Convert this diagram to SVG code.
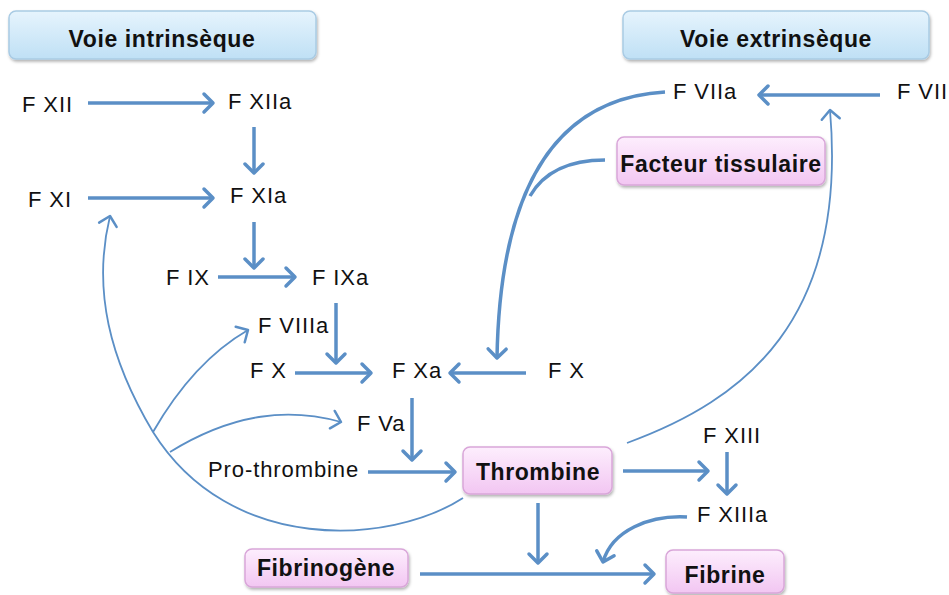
<svg xmlns="http://www.w3.org/2000/svg" width="949" height="595" viewBox="0 0 949 595">
<defs>
<linearGradient id="gBlue" x1="0" y1="0" x2="0" y2="1">
<stop offset="0" stop-color="#e6f4fd"/><stop offset="1" stop-color="#bfe0f5"/>
</linearGradient>
<linearGradient id="gPink" x1="0" y1="0" x2="0" y2="1">
<stop offset="0" stop-color="#fdeefd"/><stop offset="1" stop-color="#f2c6f2"/>
</linearGradient>
<filter id="sh" x="-10%" y="-20%" width="120%" height="150%">
<feDropShadow dx="1" dy="2" stdDeviation="1.5" flood-color="#000" flood-opacity="0.3"/>
</filter>
<marker id="ah" markerUnits="userSpaceOnUse" markerWidth="24" markerHeight="24" refX="12" refY="12" orient="auto">
<path d="M3,3 L12,12 L3,21" fill="none" stroke="#5b8fc6" stroke-width="3.5" stroke-linecap="round" stroke-linejoin="round"/>
</marker>
<marker id="ahThin" markerUnits="userSpaceOnUse" markerWidth="24" markerHeight="24" refX="12" refY="12" orient="auto">
<path d="M3,3 L12,12 L3,21" fill="none" stroke="#5b8fc6" stroke-width="2.5" stroke-linecap="round" stroke-linejoin="round"/>
</marker>
</defs>
<style>
.t{font-family:"Liberation Sans",Arial,sans-serif;font-size:22px;fill:#111;letter-spacing:0.9px}
.b{font-family:"Liberation Sans",Arial,sans-serif;font-size:23px;font-weight:bold;fill:#111;letter-spacing:0.6px;text-anchor:middle}
.blue{fill:url(#gBlue);stroke:#a9cbe4;stroke-width:1.5;filter:url(#sh)}
.pink{fill:url(#gPink);stroke:#d9a6d9;stroke-width:1.5;filter:url(#sh)}
.a{fill:none;stroke:#5b8fc6;stroke-width:3.5;marker-end:url(#ah)}
.tha{fill:none;stroke:#5b8fc6;stroke-width:1.8;marker-end:url(#ahThin)}
.tk{fill:none;stroke:#5b8fc6;stroke-width:3.5}
</style>
<g id="connectors">
<line class="a" x1="88" y1="103" x2="213" y2="103"/>
<line class="a" x1="254" y1="127" x2="254" y2="173"/>
<line class="a" x1="88" y1="198" x2="213" y2="198"/>
<line class="a" x1="254" y1="222" x2="254" y2="268"/>
<line class="a" x1="218" y1="277" x2="295" y2="277"/>
<line class="a" x1="336" y1="303" x2="336" y2="363"/>
<line class="a" x1="295" y1="373" x2="371" y2="373"/>
<line class="a" x1="526" y1="373" x2="450" y2="373"/>
<line class="a" x1="412" y1="398" x2="412" y2="460"/>
<line class="a" x1="368" y1="472" x2="455" y2="472"/>
<line class="a" x1="623" y1="471" x2="708" y2="471"/>
<line class="a" x1="727" y1="452" x2="727" y2="494"/>
<line class="a" x1="538" y1="503" x2="538" y2="563"/>
<line class="a" x1="420" y1="574" x2="654" y2="574"/>
<line class="a" x1="880" y1="95" x2="759" y2="95"/>
<path class="a" d="M665,92 C560,98 500,180 497,358"/>
<path class="tk" d="M605,160 C572,160 545,170 530,196"/>
<path class="a" d="M687,517 C650,515 612,530 603,562"/>
<path class="tha" d="M627,443 C745,400 848,320 830,110"/>
<path class="tha" d="M463,498 C390,545 230,555 153,432 C110,360 92,290 110,216"/>
<path class="tha" d="M153,432 C180,385 210,352 248,330"/>
<path class="tha" d="M170,452 C235,412 290,408 341,422"/>
</g>
<g id="voie-intrinseque"><rect class="blue" x="9" y="11" width="307" height="48" rx="7"/><text class="b" x="162" y="47">Voie intrinsèque</text></g>
<g id="voie-extrinseque"><rect class="blue" x="623" y="11" width="306" height="48" rx="7"/><text class="b" x="776" y="47">Voie extrinsèque</text></g>
<g id="facteur-tissulaire"><rect class="pink" x="617" y="137" width="208" height="48" rx="7"/><text class="b" x="721" y="172">Facteur tissulaire</text></g>
<g id="thrombine"><rect class="pink" x="463" y="447" width="149" height="47" rx="7"/><text class="b" x="538" y="480">Thrombine</text></g>
<g id="fibrinogene"><rect class="pink" x="245" y="549" width="163" height="38" rx="7"/><text class="b" x="326" y="576">Fibrinogène</text></g>
<g id="fibrine"><rect class="pink" x="666" y="550" width="118" height="43" rx="7"/><text class="b" x="725" y="583">Fibrine</text></g>
<g id="fxii"><text class="t" x="22" y="112">F XII</text></g>
<g id="fxiia"><text class="t" x="228" y="109">F XIIa</text></g>
<g id="fxi"><text class="t" x="28" y="207">F XI</text></g>
<g id="fxia"><text class="t" x="230" y="203">F XIa</text></g>
<g id="fix"><text class="t" x="166" y="285">F IX</text></g>
<g id="fixa"><text class="t" x="312" y="285">F IXa</text></g>
<g id="fviiia"><text class="t" x="258" y="333">F VIIIa</text></g>
<g id="fx-left"><text class="t" x="250" y="378">F X</text></g>
<g id="fxa"><text class="t" x="392" y="378">F Xa</text></g>
<g id="fx-right"><text class="t" x="548" y="378">F X</text></g>
<g id="fva"><text class="t" x="357" y="431">F Va</text></g>
<g id="prothrombine"><text class="t" x="208" y="477">Pro-thrombine</text></g>
<g id="fxiii"><text class="t" x="703" y="443">F XIII</text></g>
<g id="fxiiia"><text class="t" x="697" y="522">F XIIIa</text></g>
<g id="fviia"><text class="t" x="673" y="99">F VIIa</text></g>
<g id="fvii"><text class="t" x="897" y="99">F VII</text></g>
</svg>
